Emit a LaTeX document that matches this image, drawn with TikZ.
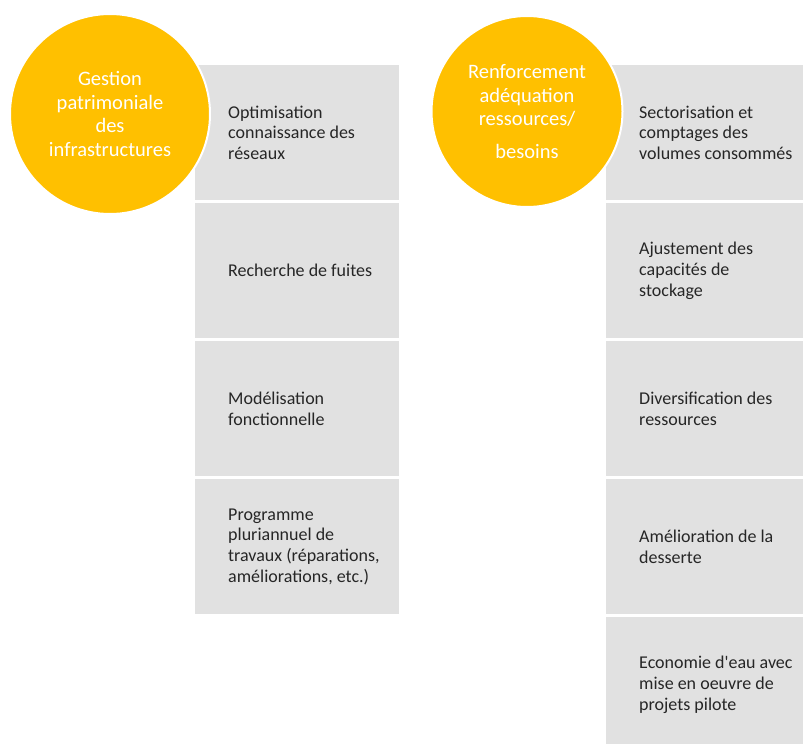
\documentclass[tikz,border=0pt]{standalone}
\usepackage{fontspec}
\setmainfont{Carlito}
\definecolor{gold}{HTML}{FFC000}
\definecolor{cardgray}{HTML}{E1E1E1}
\definecolor{inkdark}{HTML}{262626}
\begin{document}
\begin{tikzpicture}[x=1pt,y=-1pt,
  card/.style={fill=cardgray, draw=none, minimum width=204pt, minimum height=135pt,
    anchor=north west, inner sep=0pt},
  cardtext/.style={anchor=west, xshift=33pt, align=left, text=inkdark,
    font=\fontsize{18}{20.6}\selectfont, inner sep=0pt},
  theme/.style={circle, fill=gold, draw=white, line width=2pt, inner sep=0pt,
    align=center, text=white, font=\fontsize{20.5}{23.5}\selectfont}]
\useasboundingbox (0,0) rectangle (803,744);

% left column: asset management actions
\node[card] (a1) at (195,65) {};
\node[card] (a2) at (195,203) {};
\node[card] (a3) at (195,341) {};
\node[card] (a4) at (195,479) {};
\node[cardtext] (ta1) at (a1.west) {Optimisation\\connaissance des\\réseaux};
\node[cardtext] (ta2) at (a2.west) {Recherche de fuites};
\node[cardtext] (ta3) at (a3.west) {Modélisation\\fonctionnelle};
\node[cardtext] (ta4) at (a4.west) {Programme\\pluriannuel de\\travaux (réparations,\\améliorations, etc.)};

% right column: resources / needs actions
\node[card] (b1) at (606,65) {};
\node[card] (b2) at (606,203) {};
\node[card] (b3) at (606,341) {};
\node[card] (b4) at (606,479) {};
\node[card] (b5) at (606,617) {};
\node[cardtext] (tb1) at (b1.west) {Sectorisation et\\comptages des\\volumes consommés};
\node[cardtext] (tb2) at (b2.west) {Ajustement des\\capacités de\\stockage};
\node[cardtext] (tb3) at (b3.west) {Diversification des\\ressources};
\node[cardtext] (tb4) at (b4.west) {Amélioration de la\\desserte};
\node[cardtext] (tb5) at (b5.west) {Economie d\textquotesingle eau avec\\mise en oeuvre de\\projets pilote};

% theme circles drawn over the first cards
\node[theme, minimum size=200pt] (ca) at (110,114) {Gestion\\patrimoniale\\des\\infrastructures};
\node[theme, minimum size=191pt] (cb) at (527,111.5) {Renforcement\\adéquation\\ressources/\\[9pt]besoins};
\end{tikzpicture}
\end{document}
